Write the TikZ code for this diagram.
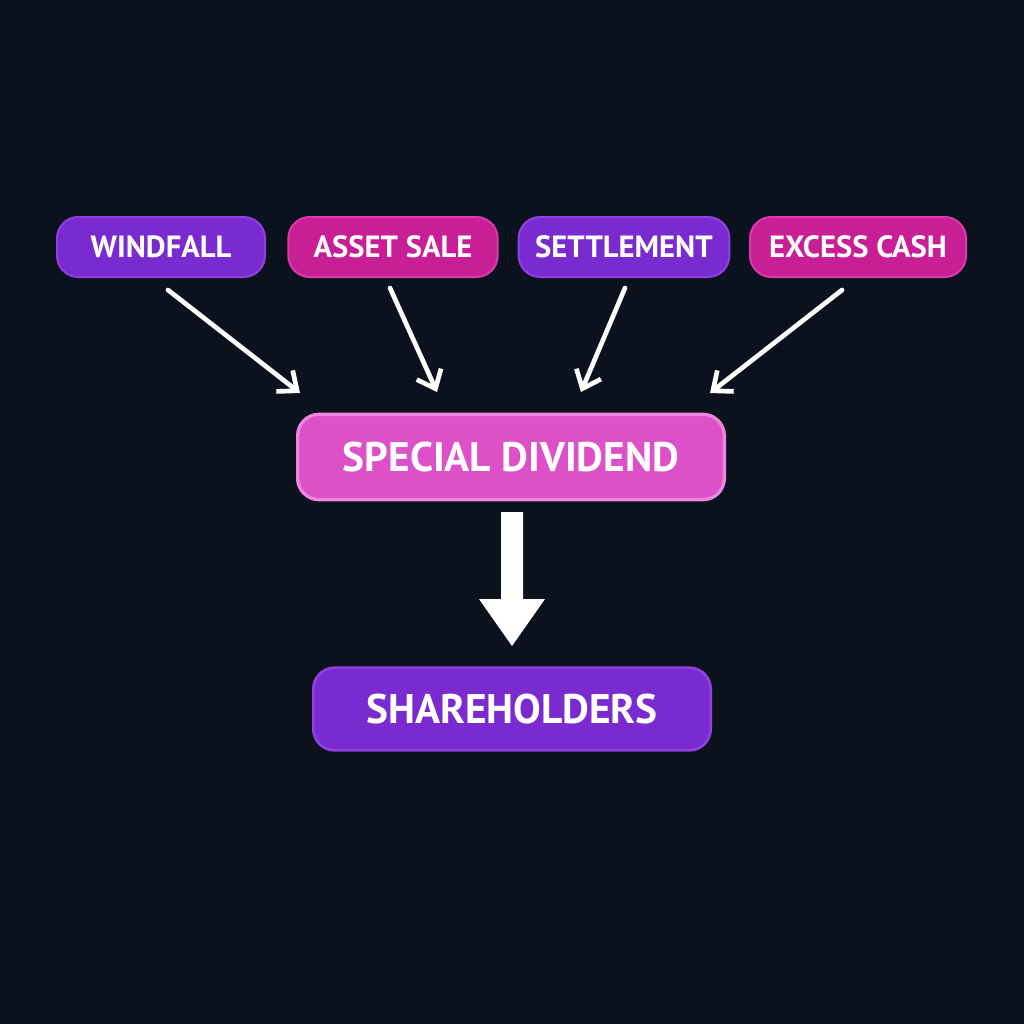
\documentclass[tikz,border=0pt]{standalone}
\usepackage{fontspec}
\setmainfont{PT Sans}
\begin{document}
\begin{tikzpicture}[x=0.75pt,y=-0.75pt,
 box/.style={rounded corners=16pt,text=white,font=\bfseries\fontsize{23}{26}\selectfont,inner sep=0pt,line width=1.5pt},
 pur/.style={box,fill=pur,draw=purl},
 mag/.style={box,fill=mag,draw=magl},
 arr/.style={white,line width=3.5pt,line cap=round,-{Straight Barb[length=12pt,width=20pt,line width=3.5pt]}}]
\definecolor{bg}{HTML}{0B121E}
\definecolor{pur}{HTML}{7A2BD0}\definecolor{purl}{HTML}{9040E0}
\definecolor{mag}{HTML}{C81E96}\definecolor{magl}{HTML}{DA3AAA}
\definecolor{pink}{HTML}{DC50C8}\definecolor{pinkl}{HTML}{EE86E0}
\usetikzlibrary{arrows.meta}
\fill[bg] (0,0) rectangle (1024,1024);
\useasboundingbox (0,0) rectangle (1024,1024);
\node[pur,minimum width=156pt,minimum height=45pt] (w) at (161,247) {WINDFALL};
\node[mag,minimum width=157pt,minimum height=45pt] (a) at (393,247) {ASSET SALE};
\node[pur,minimum width=158pt,minimum height=45pt] (s) at (624,247) {SETTLEMENT};
\node[mag,minimum width=162pt,minimum height=45pt] (e) at (858,247) {EXCESS CASH};
\node[box,fill=pink,draw=pinkl,line width=2.5pt,minimum width=320pt,minimum height=64pt,font=\bfseries\fontsize{31}{34}\selectfont] (d) at (511,457) {SPECIAL DIVIDEND};
\node[pur,line width=2pt,minimum width=298pt,minimum height=62pt,font=\bfseries\fontsize{31}{34}\selectfont] (h) at (512,709) {SHAREHOLDERS};
\coordinate (w1) at (168,290); \coordinate (w2) at (300,393);
\coordinate (a1) at (390,288); \coordinate (a2) at (437,392);
\coordinate (s1) at (625,288); \coordinate (s2) at (581,392);
\coordinate (e1) at (842,290); \coordinate (e2) at (710,393);
\draw[arr] (w1) -- (w2);
\draw[arr] (a1) -- (a2);
\draw[arr] (s1) -- (s2);
\draw[arr] (e1) -- (e2);
\coordinate (t1) at (512,512); \coordinate (t2) at (512,646);
\fill[white] (501,512) -- (523,512) -- (523,599) -- (545,599) -- (t2) -- (479,599) -- (501,599) -- cycle;
\end{tikzpicture}
\end{document}
